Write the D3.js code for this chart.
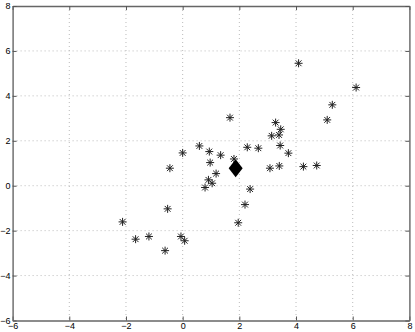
<!DOCTYPE html>
<html>
<head>
<meta charset="utf-8">
<script src="https://d3js.org/d3.v7.min.js"></script>
<style>
  body { margin: 0; background: #fff; }
  svg { display: block; }
  .tick text { font-family: "Liberation Sans", Arial, sans-serif; font-size: 9px; fill: #000; }
</style>
</head>
<body>
<script>
  // data
  var xs = [4.09, 6.12, 5.28, 5.10, 3.28, 3.46, 3.14, 3.40, 2.67, 2.28, 3.44, 3.73, 3.08, 3.41, 4.26, 4.73, 2.38,
            1.67, 0.59, 0.94, 0.00, 1.34, 0.97, 1.81, -0.45, 1.18, 0.91, 1.04, 0.79, 2.20, -0.53, -2.12, 1.96,
            -1.66, -1.19, -0.06, 0.07, -0.62];
  var ys = [5.45, 4.37, 3.60, 2.93, 2.81, 2.51, 2.22, 2.26, 1.67, 1.71, 1.79, 1.45, 0.78, 0.88, 0.85, 0.90, -0.15,
            3.03, 1.77, 1.52, 1.46, 1.36, 1.03, 1.19, 0.78, 0.54, 0.26, 0.11, -0.08, -0.84, -1.03, -1.61, -1.65,
            -2.38, -2.26, -2.26, -2.45, -2.89];
  var centre = [1.87, 0.78];
  var xTicks = [-6, -4, -2, 0, 2, 4, 6, 8];
  var yTicks = [-6, -4, -2, 0, 2, 4, 6, 8];

  var width = 415, height = 332;
  var plotL = 12.6, plotR = 409.4, plotT = 6, plotB = 320.5;

  var svg = d3.select('body').append('svg')
    .attr('width', width)
    .attr('height', height);

  var x = d3.scaleLinear().domain([-6, 8]).range([plotL, plotR]);
  var y = d3.scaleLinear().domain([-6, 8]).range([plotB, plotT]);

  // grid
  var grid = svg.append('g');
  grid.selectAll('.vg').data(xTicks.slice(1, -1)).enter().append('line')
    .attr('x1', function(d) { return x(d); }).attr('x2', function(d) { return x(d); })
    .attr('y1', plotT).attr('y2', plotB)
    .attr('stroke', '#bbb').attr('stroke-width', 1).attr('stroke-dasharray', '1,3');
  grid.selectAll('.hg').data(yTicks.slice(1, -1)).enter().append('line')
    .attr('y1', function(d) { return y(d); }).attr('y2', function(d) { return y(d); })
    .attr('x1', plotL).attr('x2', plotR)
    .attr('stroke', '#bbb').attr('stroke-width', 1).attr('stroke-dasharray', '1,3');

  // axes, ticks pointing inward like matlab
  function fmt(d) { return d < 0 ? '\u2212' + Math.abs(d) : '' + d; }
  var gx = svg.append('g').attr('transform', 'translate(0,' + plotB + ')')
    .call(d3.axisBottom(x).tickValues(xTicks).tickSizeInner(-4).tickSizeOuter(0).tickPadding(1).tickFormat(fmt));
  var gxt = svg.append('g').attr('transform', 'translate(0,' + plotT + ')')
    .call(d3.axisTop(x).tickValues(xTicks).tickSizeInner(-4).tickSizeOuter(0).tickFormat(''));
  var gy = svg.append('g').attr('transform', 'translate(' + plotL + ',0)')
    .call(d3.axisLeft(y).tickValues(yTicks).tickSizeInner(-4).tickSizeOuter(0).tickPadding(2).tickFormat(fmt));
  var gyr = svg.append('g').attr('transform', 'translate(' + plotR + ',0)')
    .call(d3.axisRight(y).tickValues(yTicks).tickSizeInner(-4).tickSizeOuter(0).tickFormat(''));
  gx.selectAll('.tick text').attr('y', 2).attr('dy', '0.71em');
  [gx, gxt, gy, gyr].forEach(function(g) {
    g.selectAll('.tick line').attr('stroke', '#555');
    g.select('.domain').attr('stroke', '#666').attr('stroke-width', 1.4);
  });

  // star markers
  var pts = xs.map(function(d, i) { return [d, ys[i]]; });
  var s = 4, t = 2.9;
  var starPath = 'M' + (-s) + ',0L' + s + ',0M0,' + (-s) + 'L0,' + s +
    'M' + (-t) + ',' + (-t) + 'L' + t + ',' + t + 'M' + (-t) + ',' + t + 'L' + t + ',' + (-t);
  svg.append('g').selectAll('path').data(pts).enter().append('path')
    .attr('transform', function(d) { return 'translate(' + x(d[0]) + ',' + y(d[1]) + ')'; })
    .attr('d', starPath)
    .attr('fill', 'none')
    .attr('stroke', '#222')
    .attr('stroke-width', 1);

  // diamond marker
  svg.append('path')
    .attr('transform', 'translate(' + x(centre[0]) + ',' + y(centre[1]) + ')')
    .attr('d', 'M0,-9L7,0L0,9L-7,0Z')
    .attr('fill', '#000');
</script>
</body>
</html>
